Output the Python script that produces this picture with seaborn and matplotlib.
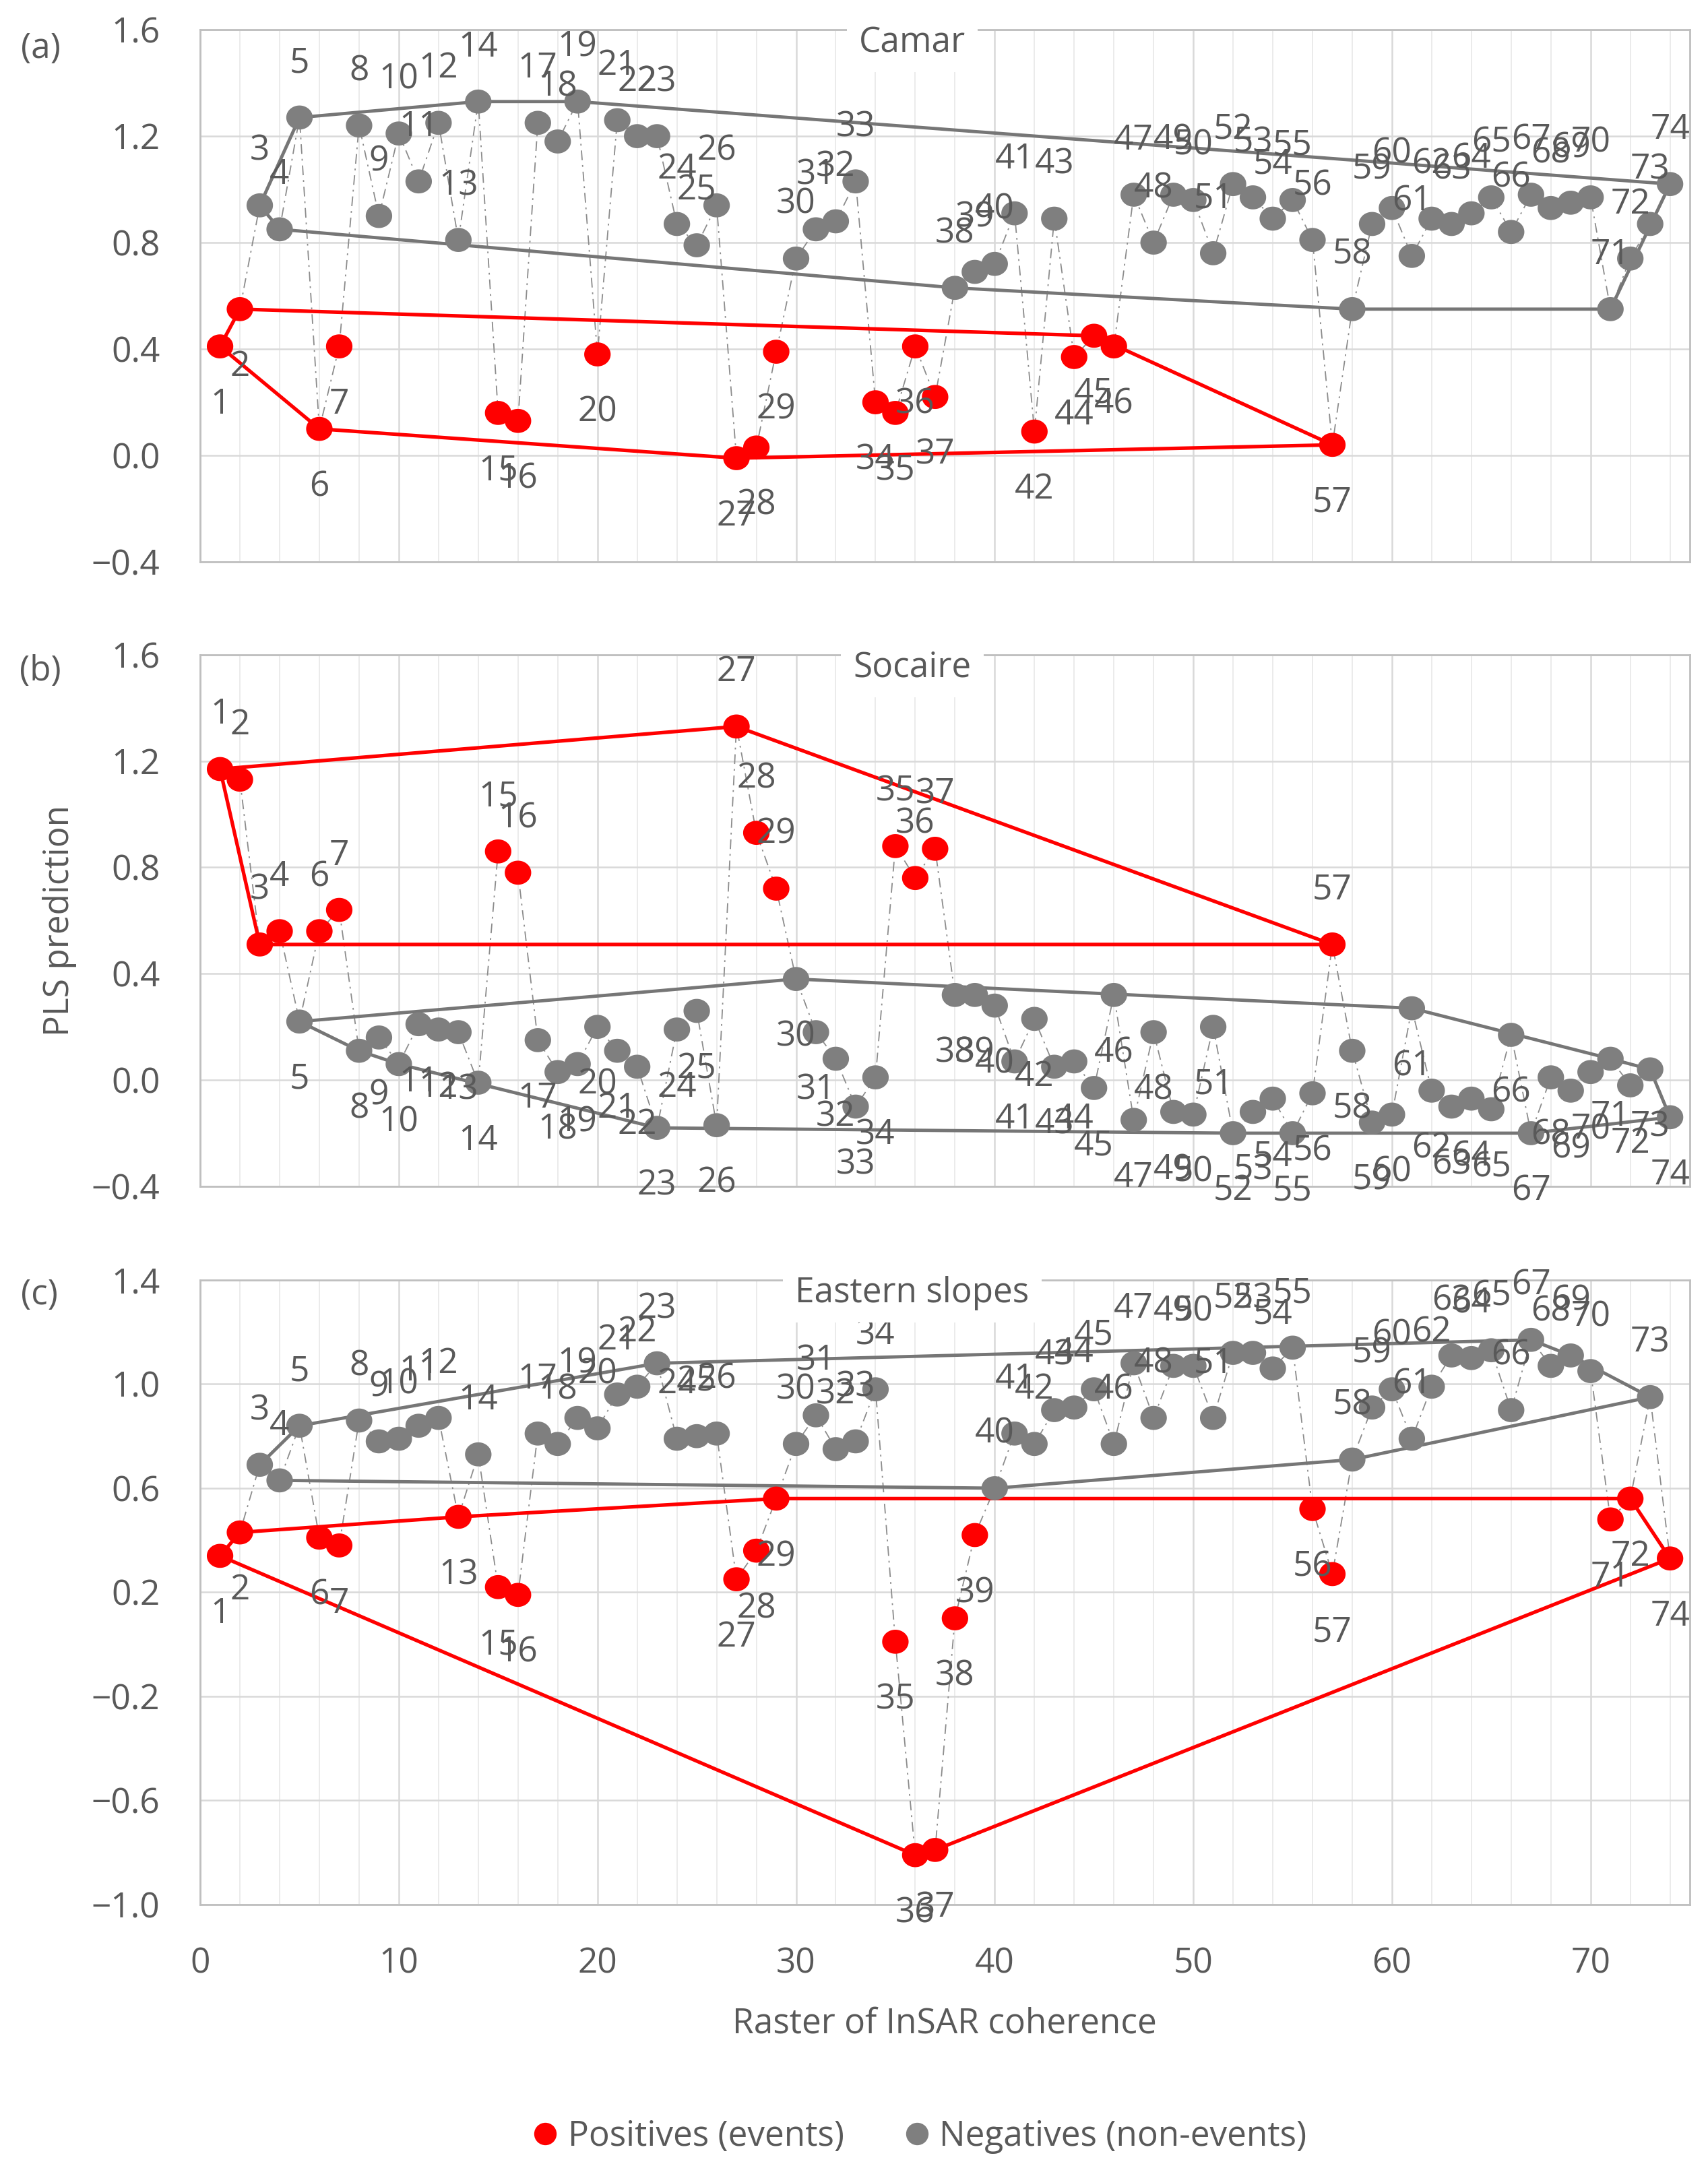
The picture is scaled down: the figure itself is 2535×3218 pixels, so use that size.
import numpy as np
import pandas as pd
import matplotlib
matplotlib.use("Agg")
import matplotlib.pyplot as plt
from matplotlib.lines import Line2D
from matplotlib.ticker import FuncFormatter
import seaborn as sns

# raster index (x) shared by all three panels
raster = list(range(1, 75))

# PLS prediction per raster
camar_pls = [0.41, 0.55, 0.94, 0.85, 1.27, 0.10, 0.41, 1.24, 0.90, 1.21,
             1.03, 1.25, 0.81, 1.33, 0.16, 0.13, 1.25, 1.18, 1.33, 0.38,
             1.26, 1.20, 1.20, 0.87, 0.79, 0.94, -0.01, 0.03, 0.39, 0.74,
             0.85, 0.88, 1.03, 0.20, 0.16, 0.41, 0.22, 0.63, 0.69, 0.72,
             0.91, 0.09, 0.89, 0.37, 0.45, 0.41, 0.98, 0.80, 0.98, 0.96,
             0.76, 1.02, 0.97, 0.89, 0.96, 0.81, 0.04, 0.55, 0.87, 0.93,
             0.75, 0.89, 0.87, 0.91, 0.97, 0.84, 0.98, 0.93, 0.95, 0.97,
             0.55, 0.74, 0.87, 1.02]
camar_pos = [1, 2, 6, 7, 15, 16, 20, 27, 28, 29, 34, 35, 36, 37, 42, 44, 45, 46, 57]

socaire_pls = [1.17, 1.13, 0.51, 0.56, 0.22, 0.56, 0.64, 0.11, 0.16, 0.06,
               0.21, 0.19, 0.18, -0.01, 0.86, 0.78, 0.15, 0.03, 0.06, 0.20,
               0.11, 0.05, -0.18, 0.19, 0.26, -0.17, 1.33, 0.93, 0.72, 0.38,
               0.18, 0.08, -0.10, 0.01, 0.88, 0.76, 0.87, 0.32, 0.32, 0.28,
               0.07, 0.23, 0.05, 0.07, -0.03, 0.32, -0.15, 0.18, -0.12, -0.13,
               0.20, -0.20, -0.12, -0.07, -0.20, -0.05, 0.51, 0.11, -0.16, -0.13,
               0.27, -0.04, -0.10, -0.07, -0.11, 0.17, -0.20, 0.01, -0.04, 0.03,
               0.08, -0.02, 0.04, -0.14]
socaire_pos = [1, 2, 3, 4, 6, 7, 15, 16, 27, 28, 29, 35, 36, 37, 57]

eastern_pls = [0.34, 0.43, 0.69, 0.63, 0.84, 0.41, 0.38, 0.86, 0.78, 0.79,
               0.84, 0.87, 0.49, 0.73, 0.22, 0.19, 0.81, 0.77, 0.87, 0.83,
               0.96, 0.99, 1.08, 0.79, 0.80, 0.81, 0.25, 0.36, 0.56, 0.77,
               0.88, 0.75, 0.78, 0.98, 0.01, -0.81, -0.79, 0.10, 0.42, 0.60,
               0.81, 0.77, 0.90, 0.91, 0.98, 0.77, 1.08, 0.87, 1.07, 1.07,
               0.87, 1.12, 1.12, 1.06, 1.14, 0.52, 0.27, 0.71, 0.91, 0.98,
               0.79, 0.99, 1.11, 1.10, 1.13, 0.90, 1.17, 1.07, 1.11, 1.05,
               0.48, 0.56, 0.95, 0.33]
eastern_pos = [1, 2, 6, 7, 13, 15, 16, 27, 28, 29, 35, 36, 37, 38, 39, 56, 57, 71, 72, 74]

panel_titles = ["Camar", "Socaire", "Eastern slopes"]
panel_tags = ["(a)", "(b)", "(c)"]
y_ticks = [np.arange(-0.4, 1.61, 0.4), np.arange(-0.4, 1.61, 0.4), np.arange(-1.0, 1.41, 0.4)]
x_ticks = [0, 10, 20, 30, 40, 50, 60, 70]

POS = "Positives (events)"
NEG = "Negatives (non-events)"

RED = "#FF0000"
GREY = "#7F7F7F"
HULL_GREY = "#767676"
TXT = "#595959"
FS = 37

sns.set_style("white")
plt.rcParams["font.family"] = ["Open Sans", "DejaVu Sans"]

# the original chart is slightly stretched sideways, so markers are wide ellipses
_t = np.linspace(0, 2 * np.pi, 73)
ELLIPSE = np.column_stack([1.1 * np.cos(_t), np.sin(_t)])


def convex_hull(xs, ys):
    pts = sorted(zip(xs, ys))

    def cross(o, a, b):
        return (a[0] - o[0]) * (b[1] - o[1]) - (a[1] - o[1]) * (b[0] - o[0])

    lower, upper = [], []
    for p in pts:
        while len(lower) >= 2 and cross(lower[-2], lower[-1], p) <= 0:
            lower.pop()
        lower.append(p)
    for p in reversed(pts):
        while len(upper) >= 2 and cross(upper[-2], upper[-1], p) <= 0:
            upper.pop()
        upper.append(p)
    hull = lower[:-1] + upper[:-1]
    hull.append(hull[0])
    hx, hy = zip(*hull)
    return list(hx), list(hy)


def fmt(v, _):
    s = f"{v:.1f}"
    if s == "-0.0":
        s = "0.0"
    return s.replace("-", "\u2212")


fig = plt.figure(figsize=(25.35, 32.18), dpi=100)
positions = [
    [0.1172, 0.7408, 0.8722, 0.2455],
    [0.1172, 0.4528, 0.8722, 0.2452],
    [0.1172, 0.1215, 0.8722, 0.2881],
]
panels = [(camar_pls, camar_pos), (socaire_pls, socaire_pos), (eastern_pls, eastern_pos)]
# which class gets its number above the marker in each panel
labels_above = [NEG, POS, NEG]

for i, (pls, pos) in enumerate(panels):
    ax = fig.add_axes(positions[i])
    df = pd.DataFrame({"raster": raster, "pls": pls})
    df["cls"] = np.where(df["raster"].isin(pos), POS, NEG)

    # dash-dot line through all rasters in order
    ax.plot(df["raster"], df["pls"], color="#8C8C8C", lw=1.3,
            linestyle=(0, (8, 4, 1.5, 4)), zorder=1.5)

    # hull outlines of each class
    for cls, col, lw in [(NEG, HULL_GREY, 3.5), (POS, RED, 3.8)]:
        sub = df[df["cls"] == cls]
        hx, hy = convex_hull(sub["raster"], sub["pls"])
        ax.plot(hx, hy, color=col, lw=lw, zorder=2, solid_joinstyle="round")

    sns.scatterplot(data=df, x="raster", y="pls", hue="cls", hue_order=[POS, NEG],
                    palette={POS: RED, NEG: GREY}, s=800, marker=ELLIPSE, linewidth=0,
                    legend=False, ax=ax, zorder=3)

    for _, r in df.iterrows():
        dy = 58 if r["cls"] == labels_above[i] else -62
        ax.annotate(str(int(r["raster"])), xy=(r["raster"], r["pls"]),
                    xytext=(0, dy), textcoords="offset points", ha="center",
                    va="center", fontsize=FS, color=TXT, zorder=4,
                    annotation_clip=False)

    ax.set_xlim(0, 75)
    yt = y_ticks[i]
    ax.set_ylim(yt[0], yt[-1])
    ax.set_yticks(yt)
    ax.yaxis.set_major_formatter(FuncFormatter(fmt))
    ax.set_xticks(x_ticks)
    ax.set_xticks(range(0, 76, 2), minor=True)
    ax.grid(which="minor", axis="x", color="#EBEBEB", lw=1.4, zorder=0)
    ax.grid(which="major", axis="x", color="#D9D9D9", lw=1.8, zorder=0)
    ax.grid(which="major", axis="y", color="#D9D9D9", lw=1.8, zorder=0)
    ax.set_axisbelow(True)
    ax.tick_params(axis="both", which="both", length=0, labelsize=FS, labelcolor=TXT)
    ax.tick_params(axis="y", pad=43)
    ax.tick_params(axis="x", pad=45)
    if i < 2:
        ax.tick_params(axis="x", labelbottom=False)
    ax.set_xlabel("")
    ax.set_ylabel("")
    for sp in ax.spines.values():
        sp.set_visible(True)
        sp.set_color("#BFBFBF")
        sp.set_linewidth(2)

    ax.annotate(panel_titles[i], xy=(0.478, 1.0), xycoords="axes fraction",
                xytext=(0, -14), textcoords="offset points", ha="center", va="center",
                fontsize=FS, color=TXT, zorder=10, annotation_clip=False,
                bbox=dict(boxstyle="square,pad=0.35", fc="white", ec="none"))

fig.text(60 / 2535, 1 - 73 / 3218, "(a)", ha="center", va="center", fontsize=FS, color=TXT)
fig.text(60 / 2535, 1 - 996 / 3218, "(b)", ha="center", va="center", fontsize=FS, color=TXT)
fig.text(58 / 2535, 1 - 1923 / 3218, "(c)", ha="center", va="center", fontsize=FS, color=TXT)

fig.text(89 / 2535, 1 - 1366 / 3218, "PLS prediction", rotation=90, ha="center",
         va="center", fontsize=FS, color=TXT)
fig.text(1402 / 2535, 1 - 3004 / 3218, "Raster of InSAR coherence", ha="center",
         va="center", fontsize=FS, color=TXT)

handles = [
    Line2D([], [], marker="o", linestyle="", markerfacecolor=RED, markeredgewidth=0, markersize=24),
    Line2D([], [], marker="o", linestyle="", markerfacecolor=GREY, markeredgewidth=0, markersize=24),
]
leg = fig.legend(handles, [POS, NEG], loc="center", bbox_to_anchor=(0.538, 0.0146),
                 ncol=2, frameon=False, fontsize=FS, handlelength=0.8,
                 handletextpad=0.25, columnspacing=1.7)
for t in leg.get_texts():
    t.set_color(TXT)

fig.savefig("out.png", dpi=100)
